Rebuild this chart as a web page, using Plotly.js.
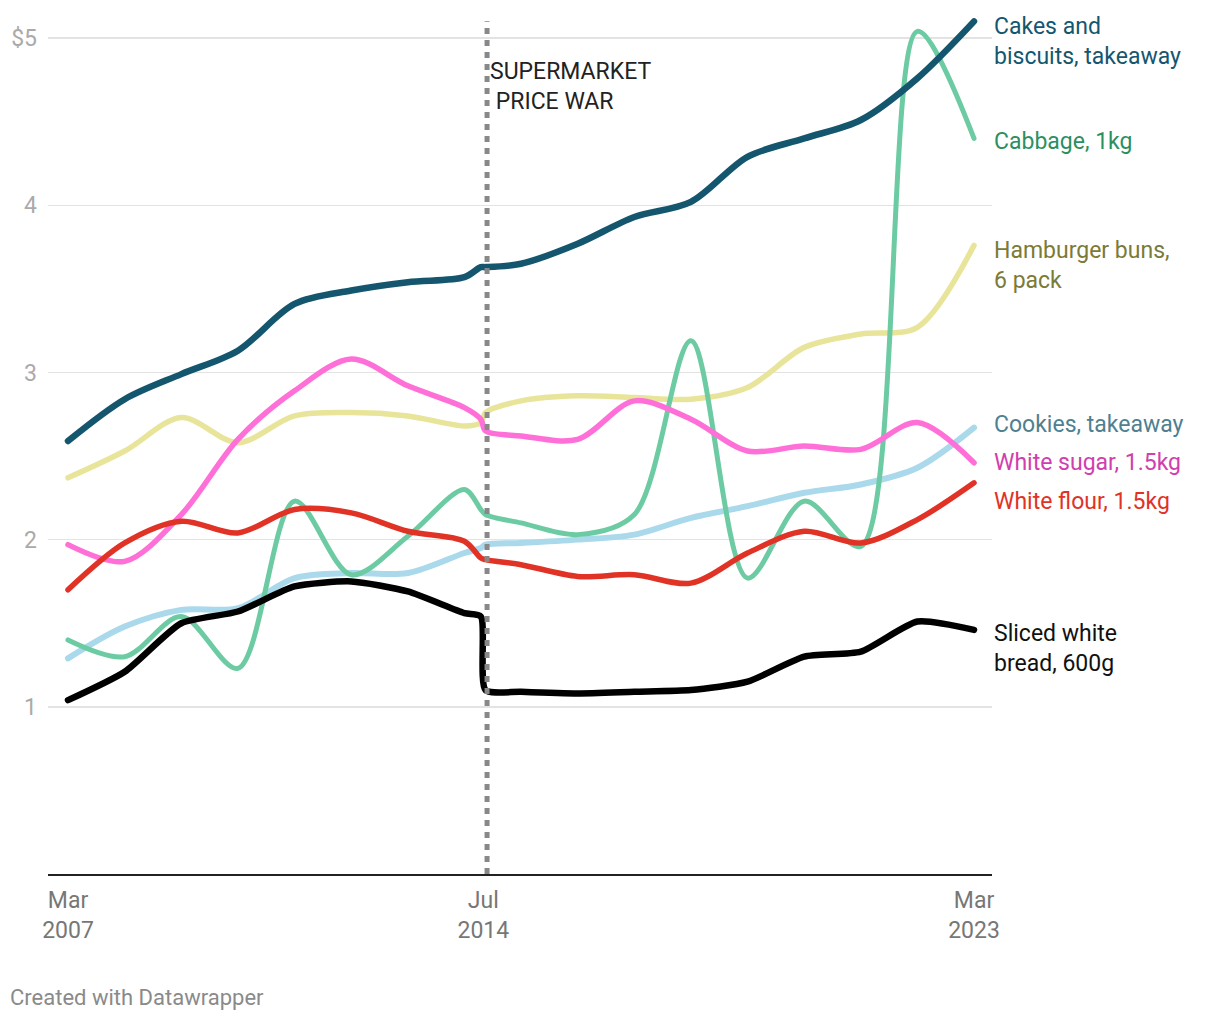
<!DOCTYPE html>
<html>
<head>
<meta charset="utf-8">
<script src="https://cdn.plot.ly/plotly-3.0.1.min.js"></script>
<style>
  html, body { margin: 0; padding: 0; background: #fff; }
  #chart { width: 1220px; height: 1020px; }
  path.js-line { stroke-linecap: round; stroke-linejoin: round; }
</style>
</head>
<body>
<div id="chart"></div>
<script>
// ---- data ----
const dates = ['2007-03-01','2008-03-01','2009-03-01','2010-03-01','2011-03-01','2012-03-01','2013-03-01','2014-03-01','2014-06-15','2014-07-15','2015-03-01','2016-03-01','2017-03-01','2018-03-01','2019-03-01','2020-03-01','2021-03-01','2022-03-01','2023-03-01'];
const cakes     = [2.59,2.84,2.99,3.13,3.41,3.49,3.54,3.57,3.63,3.63,3.65,3.77,3.93,4.02,4.29,4.40,4.51,4.76,5.10];
const cabbage   = [1.40,1.30,1.54,1.23,2.23,1.79,2.02,2.30,2.18,2.15,2.10,2.03,2.15,3.19,1.77,2.23,1.96,5.04,4.40];
const hamburger = [2.37,2.53,2.73,2.58,2.74,2.76,2.74,2.68,2.70,2.76,2.83,2.86,2.85,2.84,2.91,3.15,3.23,3.27,3.76];
const cookies   = [1.29,1.48,1.58,1.59,1.77,1.80,1.80,1.92,1.95,1.97,1.98,2.00,2.03,2.13,2.20,2.28,2.33,2.43,2.67];
const sugar     = [1.97,1.87,2.15,2.60,2.89,3.08,2.92,2.79,2.72,2.65,2.62,2.60,2.83,2.72,2.53,2.56,2.54,2.70,2.46];
const flour     = [1.70,1.98,2.11,2.04,2.18,2.16,2.05,1.99,1.89,1.88,1.85,1.78,1.79,1.74,1.92,2.05,1.98,2.12,2.34];
const bread     = [1.04,1.21,1.50,1.57,1.72,1.75,1.69,1.56,1.54,1.10,1.09,1.08,1.09,1.10,1.15,1.30,1.33,1.51,1.46];

const seriesNames = ['Cookies, takeaway','Hamburger buns,<br>6 pack','Cabbage, 1kg','White sugar, 1.5kg','White flour, 1.5kg','Sliced white<br>bread, 600g','Cakes and<br>biscuits, takeaway'];
const tickDates = ['2007-03-01','2014-07-01','2023-03-01'];
const tickText = ['Mar<br>2007','Jul<br>2014','Mar<br>2023'];
const yTicks = [1,2,3,4,5];
const yTickText = ['1','2','3','4','$5'];
const eventDate = '2014-07-25';
const eventLabel = 'SUPERMARKET<br> PRICE WAR';

// ---- styles ----
const seriesData = [cookies, hamburger, cabbage, sugar, flour, bread, cakes];
const lineColors = ['#a9d9eb','#e8e59b','#6ccba2','#ff6fd8','#e13226','#000000','#15566f'];
const labelColors = ['#4f7f90','#7b7a36','#2a8f63','#d13eae','#e13226','#111111','#15566f'];
const lineWidths = [6,5.5,5,5.5,5.5,6.5,6.5];
const smooth = [0.9,0.9,0.9,0.9,0.9,0.6,0.9];
const labelY = [2.69,3.64,4.38,2.46,2.23,1.35,4.98];
const FS = 23;

const traces = seriesData.map((ys, i) => ({
  type: 'scatter', mode: 'lines', x: dates, y: ys,
  name: seriesNames[i].replace('<br>', ' '),
  line: { color: lineColors[i], width: lineWidths[i], shape: 'spline', smoothing: smooth[i] },
  hoverinfo: 'skip', showlegend: false
}));

const annotations = seriesNames.map((t, i) => ({
  xref: 'paper', yref: 'y', x: 1, y: labelY[i], xanchor: 'left', yanchor: 'middle',
  text: t, showarrow: false, align: 'left',
  font: { family: 'Roboto, sans-serif', size: FS, color: labelColors[i] }
}));
annotations.push({
  xref: 'x', yref: 'y', x: eventDate, y: 4.71, xanchor: 'left', yanchor: 'middle',
  xshift: 1, text: eventLabel, showarrow: false, align: 'left',
  font: { family: 'Roboto, sans-serif', size: FS, color: '#222' }
});
annotations.push({
  xref: 'paper', yref: 'paper', x: 0, y: 0, xshift: -40, yshift: -123,
  xanchor: 'left', yanchor: 'middle', showarrow: false,
  text: 'Created with Datawrapper',
  font: { family: 'Roboto, sans-serif', size: 22, color: '#8a8a8a' }
});

const layout = {
  width: 1220, height: 1020,
  margin: { l: 48, r: 228, t: 13, b: 146 },
  paper_bgcolor: '#fff', plot_bgcolor: '#fff',
  font: { family: 'Roboto, sans-serif' },
  xaxis: {
    type: 'date', range: ['2006-10-23', '2023-06-25'],
    tickvals: tickDates, ticktext: tickText,
    showgrid: false, zeroline: false,
    showline: true, linecolor: '#222', linewidth: 2,
    ticks: '', ticklabelstandoff: 4,
    tickfont: { family: 'Roboto, sans-serif', size: FS, color: '#777' }
  },
  yaxis: {
    range: [0, 5.15], tickvals: yTicks, ticktext: yTickText,
    showgrid: true, gridcolor: '#e3e3e3', gridwidth: 1.5,
    zeroline: false, showline: false, ticks: '',
    ticklabelstandoff: 10,
    tickfont: { family: 'Roboto, sans-serif', size: FS, color: '#aaaaaa' }
  },
  shapes: [{
    type: 'line', xref: 'x', yref: 'y', x0: eventDate, x1: eventDate, y0: 0, y1: 5.1,
    line: { color: '#888888', width: 5, dash: '6px,6px' }, layer: 'above'
  }],
  annotations: annotations,
  hovermode: false
};

Plotly.newPlot('chart', traces, layout, { displayModeBar: false, staticPlot: true });
</script>
</body>
</html>
